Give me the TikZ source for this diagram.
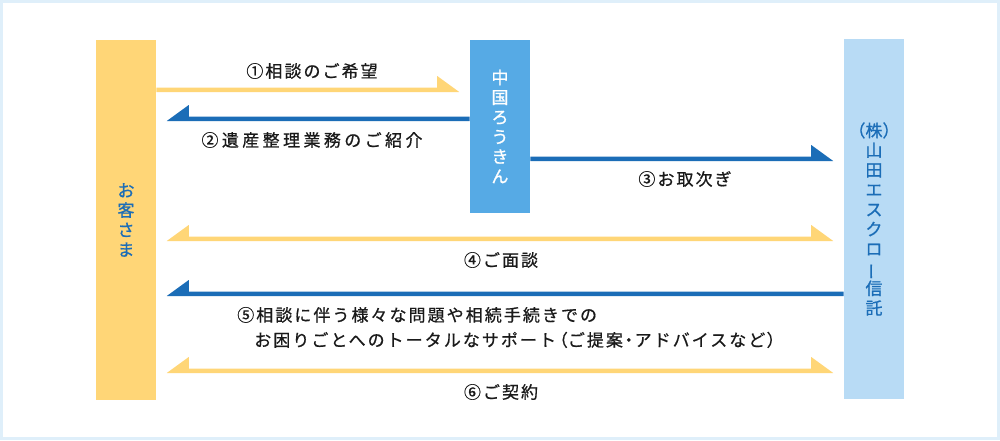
\documentclass[tikz,border=0pt]{standalone}
\usepackage{fontspec}
\usepackage{graphicx}
\usetikzlibrary{calc}
\newfontfamily\jp[LetterSpace=12, FakeBold=0.7]{Noto Sans CJK JP}
\newfontfamily\jpwide[LetterSpace=20, FakeBold=0.7]{Noto Sans CJK JP}
\newfontfamily\jphalf[LetterSpace=12, FakeBold=0.7, RawFeature=+halt]{Noto Sans CJK JP}
\newfontfamily\jpbar[FakeBold=0.9]{Noto Sans CJK JP}

\definecolor{yel}{HTML}{FFD677}
\definecolor{dblue}{HTML}{1B6DB7}
\definecolor{mblue}{HTML}{56AAE5}
\definecolor{lblue}{HTML}{B8DBF5}
\definecolor{frame}{HTML}{DFEFFA}
\definecolor{ink}{HTML}{1A1A1A}

% half-headed arrows: (start edge)(end edge), tip stops short of the end
\def\rarrow[#1](#2)(#3){\fill[#1] (#2) -- ++(0,-4.5) -- ($(#3)+(-32.5,-4.5)$) -- ($(#3)+(-32.5,-16)$) -- ($(#3)+(-10.5,0)$) -- cycle;}
\def\larrow[#1](#2)(#3){\fill[#1] (#2) -- ++(0,-4.5) -- ($(#3)+(32.5,-4.5)$) -- ($(#3)+(32.5,-16)$) -- ($(#3)+(10.5,0)$) -- cycle;}
\def\darrow[#1](#2)(#3){\fill[#1] ($(#2)+(10.5,0)$) -- ($(#2)+(32.5,-16)$) -- ($(#2)+(32.5,-4.5)$) -- ($(#3)+(-32.5,-4.5)$) -- ($(#3)+(-32.5,-16)$) -- ($(#3)+(-10.5,0)$) -- cycle;}
\newcommand\vchoon{\rotatebox[origin=c]{90}{ー}}
\newcommand\hw[1]{{\jphalf #1}}

\tikzset{
	bar/.style={minimum width=45pt, inner sep=0pt, align=center, text=dblue,
		font={\jpbar\fontsize{12.75}{14.8}\selectfont}},
	lbl/.style={inner sep=0pt, text=ink, font={\jp\fontsize{12.75}{18.75}\selectfont}}
}

\begin{document}
\begin{tikzpicture}[x=0.75pt, y=-0.75pt]
			%%%%% START %%%%%
			
			\useasboundingbox (0, 0) rectangle (1000, 440);
			\fill[frame] (0, 0) rectangle (1000, 440);
			\fill[white] (3, 3) rectangle (997, 437);
			
			\node[bar, fill=yel, minimum height=270pt] (cust) at (126, 220) {お\\客\\さ\\ま};
			\node[bar, fill=mblue, text=white, minimum height=129.75pt] (roukin) at (500, 126.5) {中\\国\\ろ\\う\\き\\ん};
			\node[bar, fill=lblue, minimum height=270pt] (escrow) at (874, 219) {（株）\\山\\田\\エ\\ス\\ク\\ロ\\\vchoon\\信\\託};
			
			\rarrow[yel](cust.east |- 0,92)(roukin.west |- 0,92);
			\larrow[dblue](roukin.west |- 0,121)(cust.east |- 0,121);
			\rarrow[dblue](roukin.east |- 0,161)(escrow.west |- 0,161);
			\darrow[yel](cust.east |- 0,241)(escrow.west |- 0,241);
			\larrow[dblue](escrow.west |- 0,296)(cust.east |- 0,296);
			\darrow[yel](cust.east |- 0,373)(escrow.west |- 0,373);
			
			\node[lbl] (wish) at (312, 71) {①相談のご希望};
			\node[lbl, font={\jpwide\fontsize{12.75}{18.75}\selectfont}] (intro) at (312, 140) {②遺産整理業務のご紹介};
			\node[lbl] (refer) at (685, 179) {③お取次ぎ};
			\node[lbl] (meet) at (501, 260) {④ご面談};
			\node[lbl, anchor=west, align=left] (support) at (237, 327.5) {⑤相談に伴う様々な問題や相続手続きでの\\\phantom{⑤}お困りごとへのトータルなサポート\hspace{2.5pt}\hw{（}ご提案\hspace{1.2pt}\hw{・}\hspace{1.2pt}アドバイスなど\hspace{1pt}\hw{）}};
			\node[lbl] (contract) at (501, 392) {⑥ご契約};
			
			%%%%% END %%%%%
		\end{tikzpicture}
\end{document}
